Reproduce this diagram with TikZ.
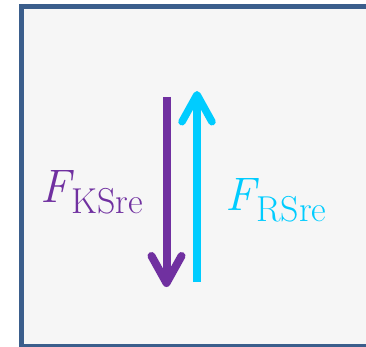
\documentclass[tikz,border=0pt]{standalone}
\usepackage{fontspec}
\usepackage{xcolor}
\usetikzlibrary{arrows.meta,positioning}

\definecolor{framecol}{HTML}{3B5E8C}
\definecolor{panelcol}{HTML}{F6F6F6}
\definecolor{kscol}{HTML}{7030A0}
\definecolor{rscol}{HTML}{00CCFF}

% force symbol with upright subscript
\newcommand{\forcesym}[1]{{\itshape F}\kern1pt%
  \raisebox{-10pt}{\fontsize{36}{38}\selectfont #1}}

\begin{document}
\begin{tikzpicture}[
        x=1pt, y=-1pt,
        force/.style={line width=8pt,
          -{Straight Barb[length=27pt,width=30pt,round]}},
        every node/.style={inner sep=0pt,
          font=\fontsize{47}{50}\selectfont}
      ]

        \useasboundingbox (0,0) rectangle (366,347);

        % Panel ---------------------------------------------------
        \draw[framecol,fill=panelcol,line width=5pt]
          (21.5,6.5) rectangle (375,346.5);

        % Force ends
        \coordinate (ks0) at (166.5,97);
        \coordinate (ks1) at (166.5,287);
        \coordinate (rs0) at (197,282);
        \coordinate (rs1) at (197,91);

        % Forces --------------------------------------------------
        \draw[force,kscol] (ks0) -- (ks1);
        \draw[force,rscol,line width=7.5pt] (rs0) -- (rs1);

        % Labels
        \node[kscol,anchor=base west] (kslabel) at (40,203)
          {\forcesym{KSre}};
        \node[rscol,anchor=base west] (rslabel) at (225,211)
          {\forcesym{RSre}};

      \end{tikzpicture}
\end{document}
